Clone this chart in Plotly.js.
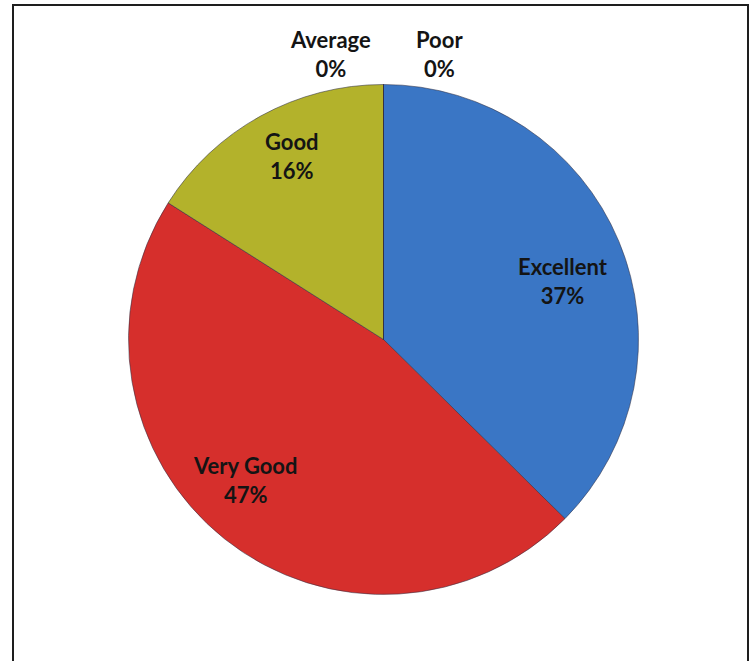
<!DOCTYPE html>
<html>
<head>
<meta charset="utf-8">
<script src="https://cdn.plot.ly/plotly-3.0.1.min.js"></script>
<style>html,body{margin:0;padding:0;background:#fff;}#chart{width:751px;height:661px;}</style>
</head>
<body>
<div id="chart"></div>
<script>
// Data
var categories = ["Excellent", "Very Good", "Good", "Average", "Poor"];
var values = [37.4, 46.6, 16, 0, 0];
var colors = ["#3a76c5", "#d62f2c", "#b3b22b", "#8064a2", "#4bacc6"];

// Label positions (pixel coords) — layout only
var labelPos = {
  "Excellent": [563, 281],
  "Very Good": [245, 480],
  "Good": [292, 156],
  "Average": [330, 54],
  "Poor": [440, 54]
};

var W = 751, H = 661;
var total = values.reduce(function(a, b){ return a + b; }, 0);

var cx = 383.5, cy = 339.5, R = 255;

var trace = {
  type: "pie",
  labels: categories,
  values: values,
  sort: false,
  direction: "clockwise",
  rotation: 0,
  textinfo: "none",
  hoverinfo: "label+percent",
  marker: { colors: colors, line: { color: "rgba(50,50,70,0.55)", width: 1 } },
  domain: { x: [(cx - R) / W, (cx + R) / W], y: [(H - cy - R) / H, (H - cy + R) / H] },
  showlegend: false
};

var annotations = categories.map(function(c, i) {
  var p = labelPos[c];
  var pct = Math.round(values[i] / total * 100);
  return {
    xref: "paper", yref: "paper",
    x: p[0] / W, y: 1 - p[1] / H,
    xanchor: "center", yanchor: "middle",
    text: c + "<br>" + pct + "%",
    showarrow: false,
    font: { family: "Lato, 'Open Sans', sans-serif", size: 22, color: "#141414", weight: 700 }
  };
});

var layout = {
  width: W, height: H,
  margin: { l: 0, r: 0, t: 0, b: 0 },
  paper_bgcolor: "#ffffff",
  annotations: annotations,
  shapes: [{
    type: "rect", xref: "paper", yref: "paper",
    x0: 13 / W, x1: 748 / W, y0: -0.02, y1: 1 - 5 / H,
    line: { color: "#1e1e1e", width: 2 }, fillcolor: "rgba(0,0,0,0)", layer: "below"
  }]
};

Plotly.newPlot("chart", [trace], layout, { displayModeBar: false, staticPlot: true });
</script>
</body>
</html>
